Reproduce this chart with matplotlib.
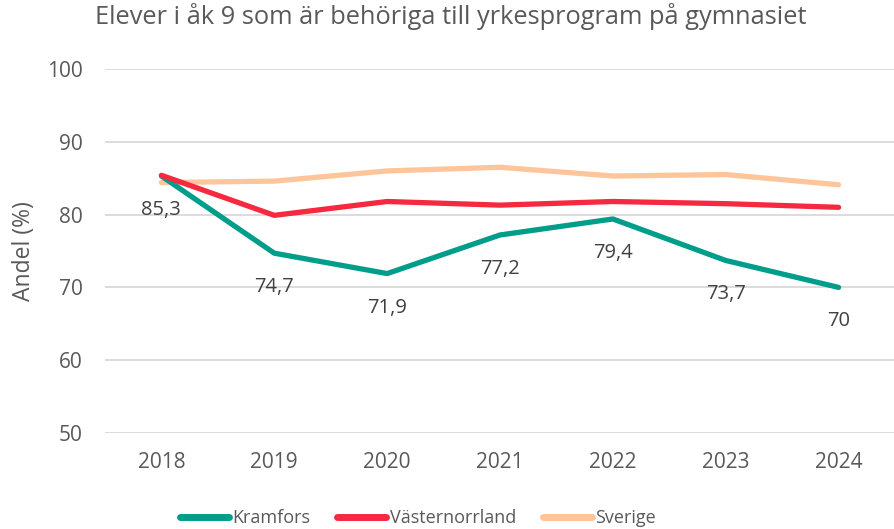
import matplotlib
matplotlib.use('Agg')
import matplotlib.pyplot as plt
import numpy as np

years = ['2018', '2019', '2020', '2021', '2022', '2023', '2024']
kramfors = [85.3, 74.7, 71.9, 77.2, 79.4, 73.7, 70.0]
vasternorrland = [85.4, 79.9, 81.8, 81.3, 81.8, 81.5, 81.0]
sverige = [84.4, 84.6, 86.0, 86.5, 85.3, 85.5, 84.1]
kramfors_labels = ['85,3', '74,7', '71,9', '77,2', '79,4', '73,7', '70']

plt.rcParams['font.family'] = ['Open Sans', 'DejaVu Sans']

fig = plt.figure(figsize=(8.95, 5.29), dpi=100)
ax = fig.add_axes([105 / 895, 1 - 433 / 529, 790 / 895, 364 / 529])

x = np.arange(len(years))
ax.plot(x, kramfors, color='#009E8A', lw=3.8, solid_capstyle='round', label='Kramfors', zorder=3)
ax.plot(x, vasternorrland, color='#F5293F', lw=3.8, solid_capstyle='round', label='Västernorrland', zorder=3)
ax.plot(x, sverige, color='#FFC59A', lw=3.8, solid_capstyle='round', label='Sverige', zorder=2)

# data labels under the Kramfors points
for xi, yi, lab in zip(x, kramfors, kramfors_labels):
    ax.annotate(lab, (xi, yi), xytext=(0, -34), textcoords='offset pixels',
                ha='center', va='center', fontsize=14.5, color='#404040')

ax.set_xlim(-0.5, 6.5)
ax.set_ylim(50, 100)
ax.set_yticks(range(50, 101, 10))
ax.set_xticks(x)
ax.set_xticklabels(years)
ax.grid(axis='y', color='#D9D9D9', lw=1.3)
ax.set_axisbelow(True)
for s in ax.spines.values():
    s.set_visible(False)
ax.tick_params(length=0, labelsize=15, labelcolor='#595959')
ax.tick_params(axis='y', pad=16)
ax.tick_params(axis='x', pad=14)
ax.set_ylabel('Andel (%)', fontsize=16.5, color='#595959')
ax.yaxis.set_label_coords(-69 / 790, 0.5)

fig.text(95 / 895, 1 - 16 / 529, 'Elever i åk 9 som är behöriga till yrkesprogram på gymnasiet',
         fontsize=18.3, color='#595959', va='center', ha='left')

leg = fig.legend(loc='center', bbox_to_anchor=(418 / 895, 1 - 518 / 529), ncol=3, frameon=False,
                 fontsize=13, handlelength=2.7, handletextpad=0.2, columnspacing=1.5,
                 labelcolor='#595959')
for h in leg.get_lines():
    h.set_linewidth(5)

fig.savefig('out.png', dpi=100)
